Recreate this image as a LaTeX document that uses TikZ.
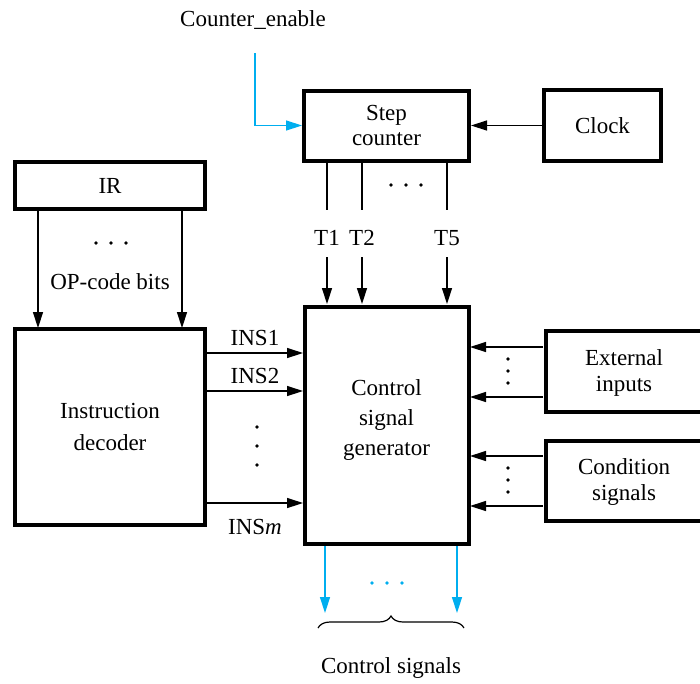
\documentclass[tikz,border=0pt]{standalone}
\usepackage{fontspec}
\setmainfont{Liberation Serif}
\usetikzlibrary{arrows.meta,decorations.pathreplacing}
\definecolor{cy}{HTML}{00AEEF}
\begin{document}
\begin{tikzpicture}[x=1pt,y=-1pt,
  box/.style={draw,line width=4pt,inner sep=0,align=center},
  lbl/.style={inner sep=0,font=\fontsize{23}{27}\selectfont},
  arr/.style={line width=1.4pt,-{Stealth[length=16pt,width=10pt,inset=0pt]}},
  blu/.style={line width=1.4pt,cy,-{Stealth[length=16pt,width=10pt,inset=0pt]}},
  dot/.style={circle,fill,inner sep=0,minimum size=3.6pt},
  bdot/.style={circle,fill=cy,inner sep=0,minimum size=3.6pt}]
\useasboundingbox (0,0) rectangle (700,683);
\clip (0,0) rectangle (700,683);
% boxes (centerlines)
\node[box,minimum width=165pt,minimum height=70pt,font=\fontsize{23}{25}\selectfont] (sc) at (386.5,125.5) {Step\\counter};
\node[box,minimum width=117pt,minimum height=71pt,font=\fontsize{23}{25}\selectfont] (clk) at (602.5,125.5) {Clock};
\node[box,minimum width=190pt,minimum height=47pt,font=\fontsize{23}{25}\selectfont] (ir) at (110,185.5) {IR};
\node[box,minimum width=190pt,minimum height=196pt,font=\fontsize{23}{32}\selectfont] (dec) at (110,427) {Instruction\\decoder};
\node[box,minimum width=164pt,minimum height=237pt,
  label={[lbl,align=center,font=\fontsize{23}{30}\selectfont,yshift=6pt]center:Control\\signal\\generator}] (csg) at (386.5,425.5) {};
\node[box,minimum width=180pt,minimum height=81pt,anchor=west] (ext) at (544,371) {};
\node[box,minimum width=180pt,minimum height=80pt,anchor=west] (cond) at (544,480.5) {};
\node[lbl,align=center,font=\fontsize{23}{26}\selectfont] (extt) at (624,373) {External\\inputs};
\node[lbl,align=center,font=\fontsize{23}{26}\selectfont] (condt) at (624,482) {Condition\\signals};
% counter enable
\node[lbl] (ce) at (253,20) {Counter\_enable};
\coordinate (ces) at (255,53);
\draw[blu] (ces) |- (sc.west);
% clock
\draw[arr] (clk.west) -- (sc.east |- clk.west);
% T lines
\foreach \x/\t/\n in {327/T1/t1,362/T2/t2,447/T5/t5}{
  \coordinate (\n a) at (\x,161);
  \coordinate (\n b) at (\x,210);
  \coordinate (\n c) at (\x,257);
  \coordinate (\n d) at (\x,304);
  \node[lbl] (\n) at (\x,238) {\t};
  \draw[line width=1.4pt] (\n a) -- (\n b);
  \draw[arr] (\n c) -- (\n d);
}
\node[dot] (d1) at (391,185) {};
\node[dot] (d2) at (406,185) {};
\node[dot] (d3) at (421,185) {};
% IR to decoder
\coordinate (ir1) at (38,210);
\coordinate (ir2) at (182,210);
\coordinate (de1) at (38,328);
\coordinate (de2) at (182,328);
\draw[arr] (ir1) -- (de1);
\draw[arr] (ir2) -- (de2);
\node[dot] (e1) at (96,243) {};
\node[dot] (e2) at (111,243) {};
\node[dot] (e3) at (126,243) {};
\node[lbl] (op) at (110,282) {OP-code bits};
% INS
\foreach \y/\n in {353/i1,391/i2,503/im}{
  \coordinate (\n a) at (207,\y);
  \coordinate (\n b) at (303,\y);
  \draw[arr] (\n a) -- (\n b);
}
\node[lbl] (ins1) at (255,338) {INS1};
\node[lbl] (ins2) at (255,376) {INS2};
\node[lbl] (insm) at (255,527) {INS\textit{m}};
\node[dot] (f1) at (257,427) {};
\node[dot] (f2) at (257,446) {};
\node[dot] (f3) at (257,465) {};
% external / condition
\foreach \y/\n in {347/x1,397/x2,456/x3,506/x4}{
  \coordinate (\n a) at (543,\y);
  \coordinate (\n b) at (470,\y);
  \draw[arr] (\n a) -- (\n b);
}
\node[dot] (g1) at (508,359) {};
\node[dot] (g2) at (508,371) {};
\node[dot] (g3) at (508,383) {};
\node[dot] (h1) at (508,468) {};
\node[dot] (h2) at (508,480) {};
\node[dot] (h3) at (508,492) {};
% control signals
\coordinate (o1a) at (325,546);
\coordinate (o1b) at (325,613);
\coordinate (o2a) at (457,546);
\coordinate (o2b) at (457,613);
\draw[blu] (o1a) -- (o1b);
\draw[blu] (o2a) -- (o2b);
\node[bdot] (k1) at (372,583) {};
\node[bdot] (k2) at (387,583) {};
\node[bdot] (k3) at (402,583) {};
\coordinate (br1) at (318,628);
\coordinate (br2) at (464,628);
\draw[line width=1.2pt,decorate,decoration={brace,amplitude=12pt}] (br1) -- (br2);
\node[lbl] (cs) at (391,668) {Control signals};
\end{tikzpicture}
\end{document}
